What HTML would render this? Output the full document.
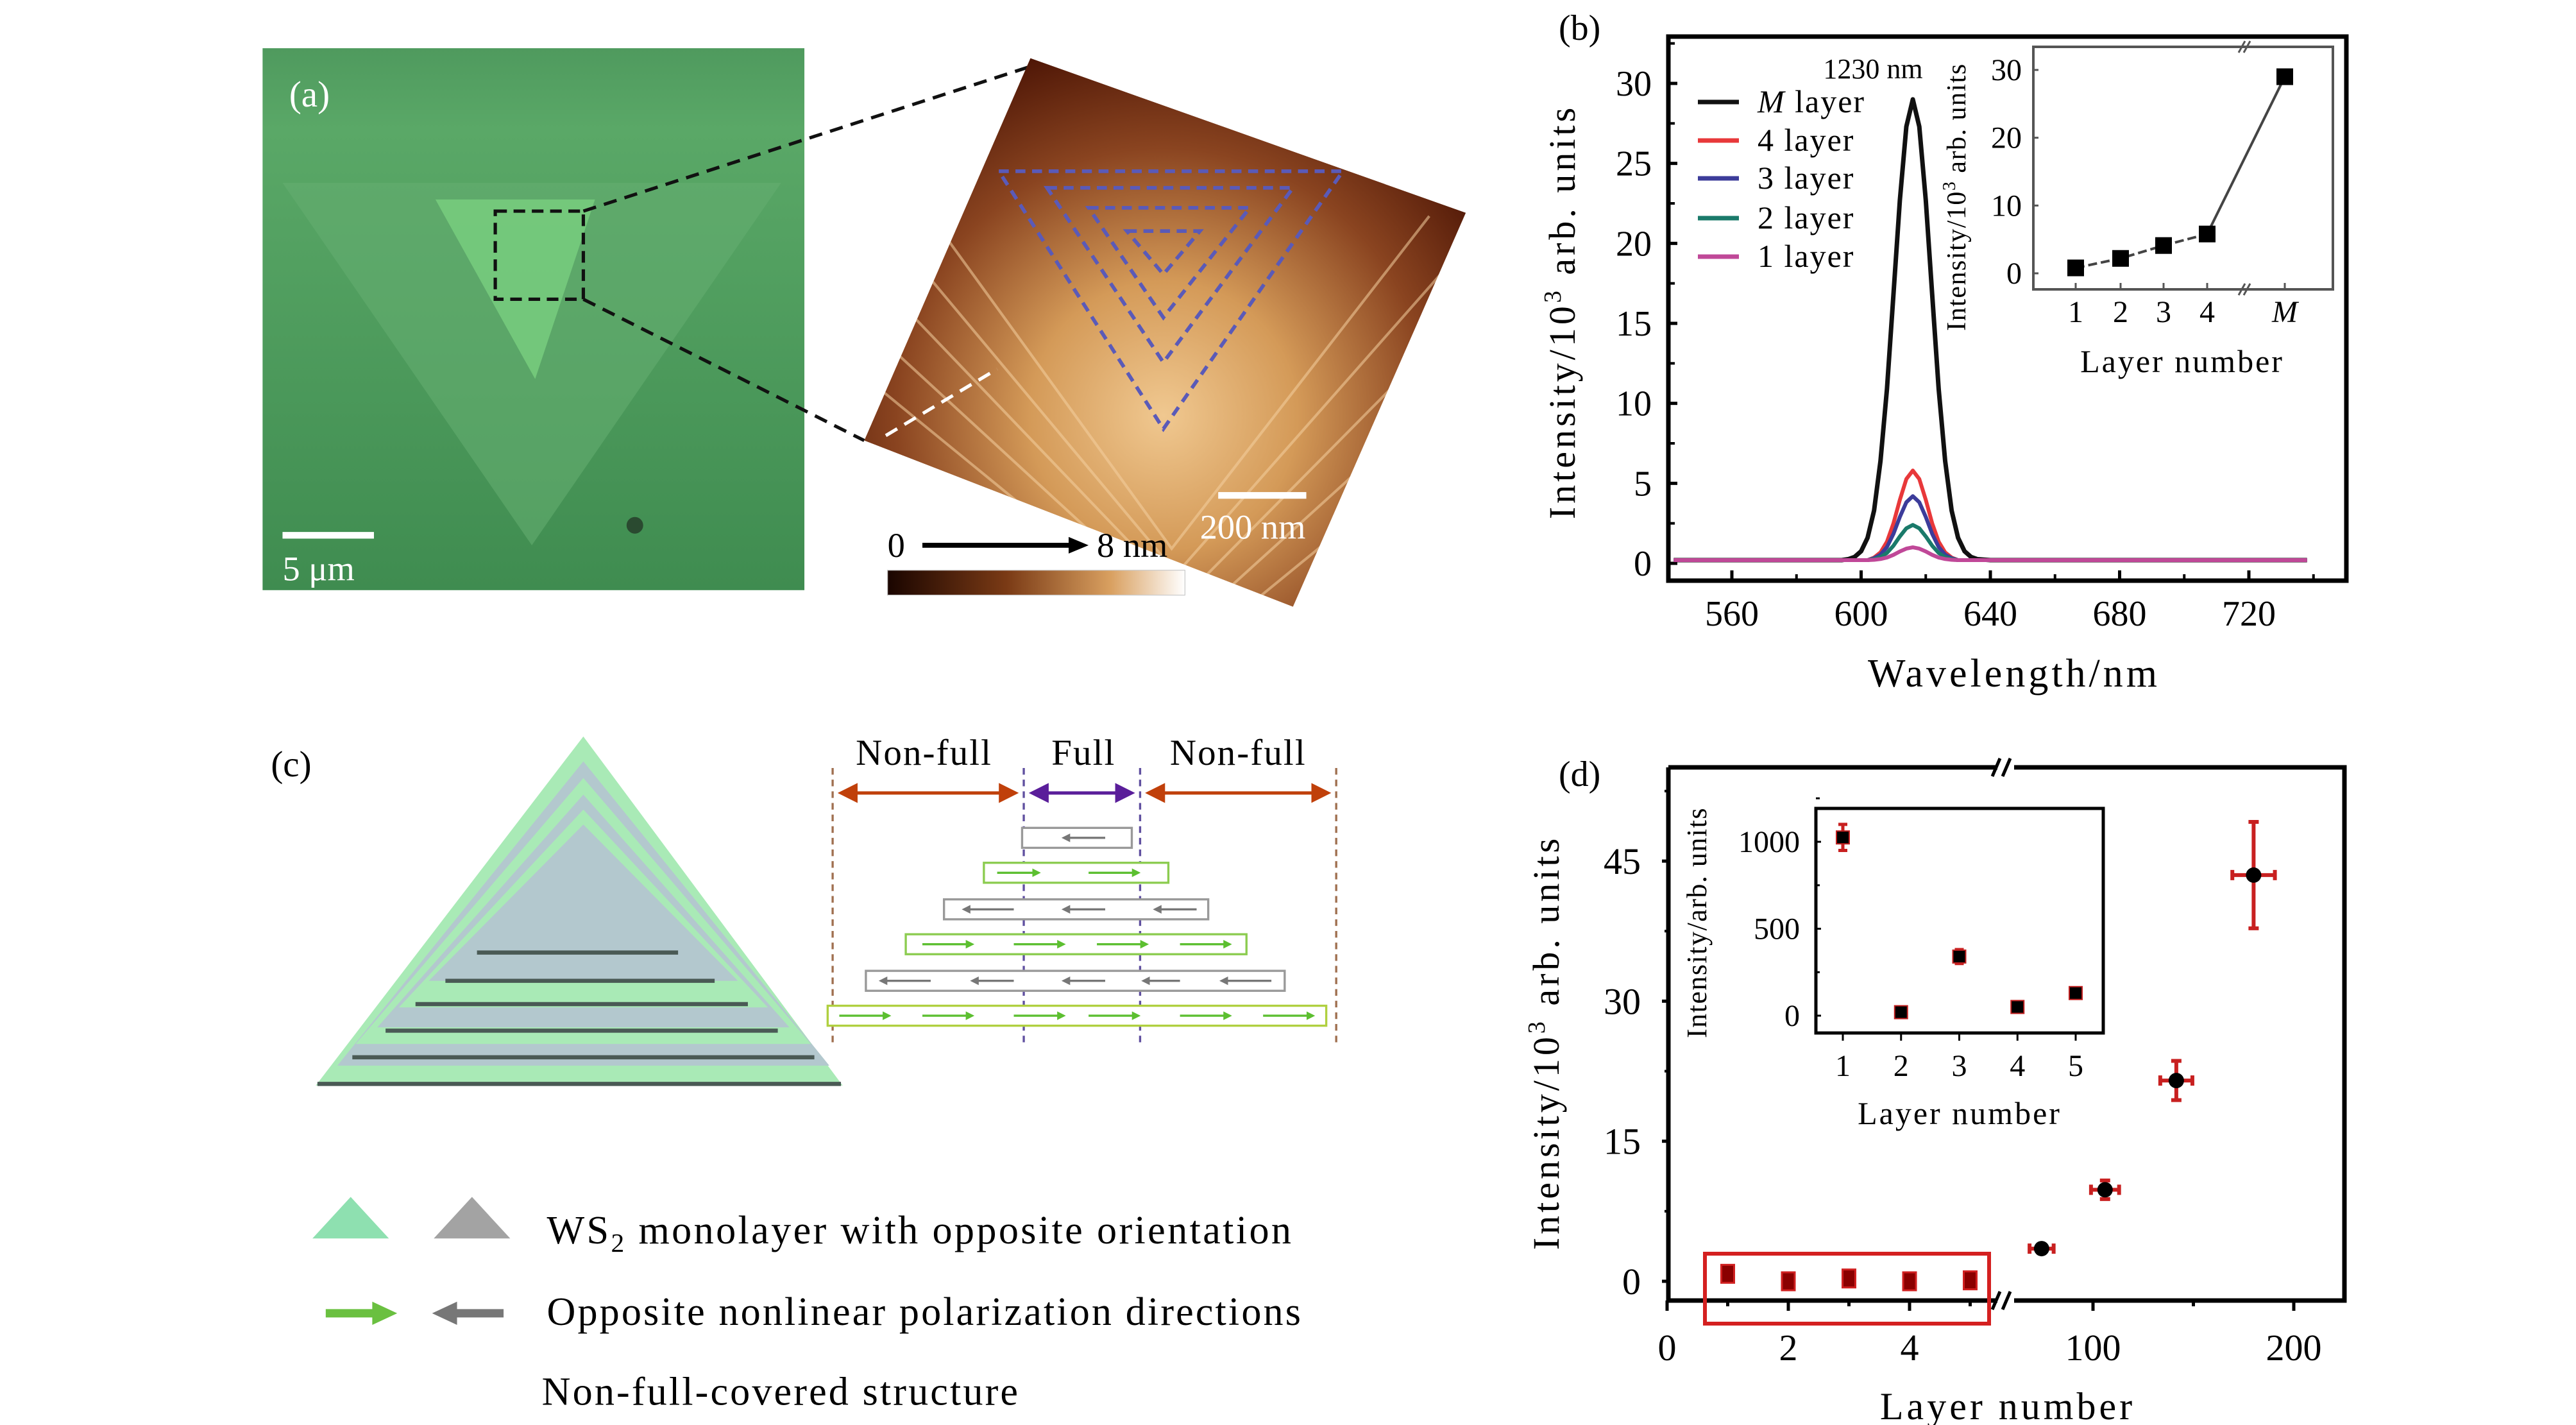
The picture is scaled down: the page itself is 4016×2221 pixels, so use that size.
<!DOCTYPE html>
<html><head><meta charset="utf-8"><style>
html,body{margin:0;padding:0;background:#fff;}
svg{display:block;font-family:"Liberation Serif",serif;}
</style></head><body>
<svg id="root" width="4016" height="2221" viewBox="0 0 4016 2221" xmlns="http://www.w3.org/2000/svg">
<defs>
<linearGradient id="greenbg" x1="0" y1="0" x2="0" y2="1"><stop offset="0" stop-color="#4f9a5e"/><stop offset="0.15" stop-color="#5aa867"/><stop offset="1" stop-color="#3f8c50"/></linearGradient>
<radialGradient id="afm" cx="700" cy="250" r="230" gradientUnits="userSpaceOnUse"><stop offset="0" stop-color="#f0c890"/><stop offset="0.35" stop-color="#d49a58"/><stop offset="0.7" stop-color="#8a4420"/><stop offset="1" stop-color="#4e1606"/></radialGradient>
<clipPath id="afmclip"><polygon points="620,35 882,128 778,365 520,265"/></clipPath>
<linearGradient id="cbar" x1="0" y1="0" x2="1" y2="0"><stop offset="0" stop-color="#1a0500"/><stop offset="0.4" stop-color="#7a3a15"/><stop offset="0.75" stop-color="#d9a060"/><stop offset="1" stop-color="#fff"/></linearGradient>
<marker id="ahO" markerWidth="6" markerHeight="6" refX="5" refY="3" orient="auto-start-reverse"><path d="M0,0L6,3L0,6z" fill="#c0400a"/></marker>
<marker id="ahP" markerWidth="6" markerHeight="6" refX="5" refY="3" orient="auto-start-reverse"><path d="M0,0L6,3L0,6z" fill="#5a1e9a"/></marker>
<marker id="ahG" markerWidth="4" markerHeight="4" refX="3" refY="2" orient="auto"><path d="M0,0L4,2L0,4z" fill="#5cbf30"/></marker>
<marker id="ahK" markerWidth="4" markerHeight="4" refX="3" refY="2" orient="auto"><path d="M0,0L4,2L0,4z" fill="#777"/></marker>
</defs>

<!-- Panel a (display coords scaled) -->
<g transform="scale(2.591)">
  <rect x="158" y="29" width="326" height="326" fill="url(#greenbg)"/>
  <polygon points="170,110 470,110 320,328" fill="#64ad70" opacity="0.6"/>
  <polygon points="262,120 358,120 322,228" fill="#79d07f" opacity="0.8"/>
  <circle cx="382" cy="316" r="5" fill="#2a4a30"/>
  <rect x="298" y="127" width="53" height="53" fill="none" stroke="#111" stroke-width="2" stroke-dasharray="7,4"/>
  <line x1="351" y1="127" x2="620" y2="40" stroke="#111" stroke-width="2" stroke-dasharray="8,5"/>
  <line x1="351" y1="180" x2="520" y2="265" stroke="#111" stroke-width="2" stroke-dasharray="8,5"/>
  <text x="174" y="64" font-size="22" fill="#fff">(a)</text>
  <rect x="170" y="320" width="55" height="4" fill="#fff"/>
  <text x="170" y="349" font-size="21" fill="#fff">5 μm</text>
  <g clip-path="url(#afmclip)">
    <polygon points="620,35 882,128 778,365 520,265" fill="url(#afm)"/>
    <g stroke="#f5d0a0" stroke-width="1.6" opacity="0.55" fill="none">
      <polyline points="560,130 705,330 860,130"/><polyline points="545,150 708,345 880,150"/><polyline points="530,170 712,360 900,170"/><polyline points="515,190 716,375 920,190"/><polyline points="500,210 720,390 940,210"/>
    </g>
  </g>
  <line x1="533" y1="262" x2="600" y2="222" stroke="#fff" stroke-width="2" stroke-dasharray="8,5"/>
  <g fill="none" stroke="#5a5ab8" stroke-width="2.2" stroke-dasharray="6,4">
    <polygon points="601,103 808,103 700,258"/>
    <polygon points="630,113 778,113 700,218"/>
    <polygon points="655,125 752,125 700,191"/>
    <polygon points="678,139 722,139 700,165"/>
  </g>
  <rect x="733" y="296" width="53" height="4" fill="#fff"/>
  <text x="722" y="324" font-size="21" fill="#fff">200 nm</text>
  <text x="534" y="335" font-size="21" fill="#000">0</text>
  <line x1="555" y1="328" x2="645" y2="328" stroke="#000" stroke-width="3"/>
  <path d="M643,323L655,328L643,333z" fill="#000"/>
  <text x="660" y="335" font-size="21" fill="#000">8 nm</text>
  <rect x="534" y="343" width="179" height="15" fill="url(#cbar)" stroke="#ccc" stroke-width="0.5"/>
</g>

<!-- Panel c -->
<g transform="scale(2.591)">
  <text x="163" y="467" font-size="22">(c)</text>
  <g>
    <polygon points="351,443 190,653 507,653" fill="#a9eab6"/>
    <polygon points="351,458 203,641 499,641" fill="#b3c8ce"/>
    <polygon points="351,468 214,628 488,628" fill="#a9eab6"/>
    <polygon points="351,478 227,618 475,618" fill="#b3c8ce"/>
    <polygon points="351,487 240,606 462,606" fill="#a9eab6"/>
    <polygon points="351,496 258,590 444,590" fill="#b3c8ce"/>
    <g stroke="#4a5a55" stroke-width="2.5">
      <line x1="287" y1="573" x2="408" y2="573"/><line x1="268" y1="590" x2="430" y2="590"/><line x1="250" y1="604" x2="450" y2="604"/><line x1="232" y1="620" x2="468" y2="620"/><line x1="212" y1="636" x2="490" y2="636"/><line x1="191" y1="652" x2="506" y2="652"/>
    </g>
  </g>
  <text x="556" y="460" font-size="22" text-anchor="middle" letter-spacing="0.8">Non-full</text>
  <text x="652" y="460" font-size="22" text-anchor="middle" letter-spacing="0.8">Full</text>
  <text x="745" y="460" font-size="22" text-anchor="middle" letter-spacing="0.8">Non-full</text>
  <g stroke-width="1.3" stroke-dasharray="4,3">
    <line x1="501" y1="462" x2="501" y2="628" stroke="#a07050"/><line x1="616" y1="462" x2="616" y2="628" stroke="#6050a0"/>
    <line x1="686" y1="462" x2="686" y2="628" stroke="#6050a0"/><line x1="804" y1="462" x2="804" y2="628" stroke="#a07050"/>
  </g>
  <line x1="506" y1="477" x2="611" y2="477" stroke="#c0400a" stroke-width="2" marker-start="url(#ahO)" marker-end="url(#ahO)"/>
  <line x1="621" y1="477" x2="681" y2="477" stroke="#5a1e9a" stroke-width="2" marker-start="url(#ahP)" marker-end="url(#ahP)"/>
  <line x1="691" y1="477" x2="799" y2="477" stroke="#c0400a" stroke-width="2" marker-start="url(#ahO)" marker-end="url(#ahO)"/>
  <g fill="#fff" stroke-width="1.3">
    <rect x="615" y="498" width="66" height="12" stroke="#999"/>
    <rect x="592" y="519" width="111" height="12" stroke="#8ccc50"/>
    <rect x="568" y="541" width="159" height="12" stroke="#999"/>
    <rect x="545" y="562" width="205" height="12" stroke="#8ccc50"/>
    <rect x="521" y="584" width="252" height="12" stroke="#999"/>
    <rect x="498" y="605" width="300" height="12" stroke="#b0d040"/>
  </g>
  <g stroke-width="1.3">
    <line x1="665" y1="504" x2="640" y2="504" stroke="#777" marker-end="url(#ahK)"/>
    <line x1="600" y1="525" x2="625" y2="525" stroke="#5cbf30" marker-end="url(#ahG)"/><line x1="655" y1="525" x2="685" y2="525" stroke="#5cbf30" marker-end="url(#ahG)"/>
    <line x1="610" y1="547" x2="580" y2="547" stroke="#777" marker-end="url(#ahK)"/><line x1="665" y1="547" x2="640" y2="547" stroke="#777" marker-end="url(#ahK)"/><line x1="720" y1="547" x2="695" y2="547" stroke="#777" marker-end="url(#ahK)"/>
    <line x1="555" y1="568" x2="585" y2="568" stroke="#5cbf30" marker-end="url(#ahG)"/><line x1="610" y1="568" x2="640" y2="568" stroke="#5cbf30" marker-end="url(#ahG)"/><line x1="660" y1="568" x2="690" y2="568" stroke="#5cbf30" marker-end="url(#ahG)"/><line x1="710" y1="568" x2="740" y2="568" stroke="#5cbf30" marker-end="url(#ahG)"/>
    <line x1="560" y1="590" x2="530" y2="590" stroke="#777" marker-end="url(#ahK)"/><line x1="610" y1="590" x2="585" y2="590" stroke="#777" marker-end="url(#ahK)"/><line x1="665" y1="590" x2="640" y2="590" stroke="#777" marker-end="url(#ahK)"/><line x1="710" y1="590" x2="688" y2="590" stroke="#777" marker-end="url(#ahK)"/><line x1="765" y1="590" x2="735" y2="590" stroke="#777" marker-end="url(#ahK)"/>
    <line x1="505" y1="611" x2="535" y2="611" stroke="#5cbf30" marker-end="url(#ahG)"/><line x1="555" y1="611" x2="585" y2="611" stroke="#5cbf30" marker-end="url(#ahG)"/><line x1="610" y1="611" x2="640" y2="611" stroke="#5cbf30" marker-end="url(#ahG)"/><line x1="655" y1="611" x2="685" y2="611" stroke="#5cbf30" marker-end="url(#ahG)"/><line x1="710" y1="611" x2="740" y2="611" stroke="#5cbf30" marker-end="url(#ahG)"/><line x1="760" y1="611" x2="790" y2="611" stroke="#5cbf30" marker-end="url(#ahG)"/>
  </g>
  <polygon points="211,720 188,745 234,745" fill="#8ee0b0"/>
  <polygon points="284,720 261,745 307,745" fill="#a3a3a3"/>
  <text x="329" y="748" font-size="24" letter-spacing="1.3">WS<tspan font-size="16" dy="5">2</tspan><tspan dy="-5"> monolayer with opposite orientation</tspan></text>
  <line x1="196" y1="790" x2="226" y2="790" stroke="#6ac040" stroke-width="5"/>
  <path d="M224,783L239,790L224,797z" fill="#6ac040"/>
  <line x1="303" y1="790" x2="273" y2="790" stroke="#777" stroke-width="5"/>
  <path d="M275,783L260,790L275,797z" fill="#777"/>
  <text x="329" y="797" font-size="24" letter-spacing="1.2">Opposite nonlinear polarization directions</text>
  <text x="326" y="845" font-size="24" letter-spacing="1.2">Non-full-covered structure</text>
</g>

<g id="panelB"></g>
<g id="panelD"></g>
</svg>
<script>
// ---------- Panel b data ----------
const bWavelengths = [542,560,580,590,592,594,596,598,600,602,604,606,608,610,612,614,616,618,620,622,624,626,628,630,632,634,636,640,680,720,738];
const bSeriesNames = ["M layer","4 layer","3 layer","2 layer","1 layer"];
const bM  = [0.2,0.2,0.2,0.2,0.2,0.2,0.26,0.4,0.76,1.6,3.3,6.4,10.9,16.8,22.7,27.3,29.0,27.3,22.7,16.8,10.9,6.4,3.3,1.6,0.76,0.4,0.26,0.2,0.2,0.2,0.2];
const b4  = [0.2,0.2,0.2,0.2,0.2,0.2,0.2,0.2,0.2,0.2,0.36,0.68,1.35,2.5,3.97,5.27,5.8,5.27,3.97,2.5,1.35,0.68,0.36,0.2,0.2,0.2,0.2,0.2,0.2,0.2,0.2];
const b3  = [0.2,0.2,0.2,0.2,0.2,0.2,0.2,0.2,0.2,0.2,0.32,0.54,1.02,1.84,2.9,3.82,4.2,3.82,2.9,1.84,1.02,0.54,0.32,0.2,0.2,0.2,0.2,0.2,0.2,0.2,0.2];
const b2  = [0.2,0.2,0.2,0.2,0.2,0.2,0.2,0.2,0.2,0.2,0.26,0.39,0.65,1.1,1.68,2.19,2.4,2.19,1.68,1.1,0.65,0.39,0.26,0.2,0.2,0.2,0.2,0.2,0.2,0.2,0.2];
const b1  = [0.2,0.2,0.2,0.2,0.2,0.2,0.2,0.2,0.2,0.2,0.22,0.27,0.36,0.53,0.74,0.92,1.0,0.92,0.74,0.53,0.36,0.27,0.22,0.2,0.2,0.2,0.2,0.2,0.2,0.2,0.2];
const bColors = ["#111","#e8383a","#3c3c9a","#1a7a6a","#c04898"];
const bXTicks = [560,600,640,680,720];
const bYTicks = [0,5,10,15,20,25,30];
const bInsetCats = ["1","2","3","4","M"];
const bInsetVals = [0.8,2.2,4.1,5.8,29];
const bInsetYTicks = [0,10,20,30];
// ---------- Panel d data ----------
const dLowX = [1,2,3,4,5];
const dLowY = [0.8,0,0.3,0,0.1];
const dHighX = [74.4,106,141.5,180];
const dHighY = [3.5,9.8,21.5,43.5];
const dHighXErr = [6,7,8,10.6];
const dHighYErr = [0.3,1.0,2.1,5.7];
const dXTicksLow = [0,2,4];
const dXTicksHigh = [100,200];
const dYTicks = [0,15,30,45];
const dInsetX = [1,2,3,4,5];
const dInsetY = [1025,20,340,50,130];
const dInsetErr = [75,15,40,15,20];
const dInsetYTicks = [0,500,1000];

const NS="http://www.w3.org/2000/svg";
function mk(parent,tag,attrs,text){const e=document.createElementNS(NS,tag);for(const k in attrs)e.setAttribute(k,attrs[k]);if(text!==undefined)e.textContent=text;parent.appendChild(e);return e;}

// ---------- Panel b ----------
(function(){
const g=document.getElementById('panelB');
const L=2601,R=3658,T=57,B=905;
const x=v=>2700+(v-560)*201.5/40;
const y=v=>878-v*(878-130)/30;
let t=mk(g,'text',{x:2430,y:62,'font-size':56});t.textContent='(b)';

let f=mk(g,'rect',{x:L,y:T,width:R-L,height:B-T,fill:'none',stroke:'#000','stroke-width':7});

bYTicks.forEach(v=>{mk(g,'line',{x1:L,x2:L+14,y1:y(v),y2:y(v),stroke:'#000','stroke-width':5});
 mk(g,'line',{x1:L,x2:L+10,y1:y(v+2.5),y2:y(v+2.5),stroke:'#000','stroke-width':4});
 const e=mk(g,'text',{x:2575,y:y(v)+19,'font-size':56,'text-anchor':'end'},String(v));
 });
bXTicks.forEach(v=>{mk(g,'line',{x1:x(v),x2:x(v),y1:B,y2:B-16,stroke:'#000','stroke-width':5});
 mk(g,'line',{x1:x(v+20),x2:x(v+20),y1:B,y2:B-10,stroke:'#000','stroke-width':4});
 const e=mk(g,'text',{x:x(v),y:975,'font-size':56,'text-anchor':'middle'},String(v));
 });
let xt=mk(g,'text',{x:3140,y:1070,'font-size':62,'text-anchor':'middle','letter-spacing':5},'Wavelength/nm');

let yt=mk(g,'text',{x:0,y:0,'font-size':58,'text-anchor':'middle','letter-spacing':5,transform:'translate(2455,486) rotate(-90)'});
yt.innerHTML='Intensity/10<tspan font-size="38" dy="-22">3</tspan><tspan dy="22"> arb. units</tspan>';

const series=[bM,b4,b3,b2,b1];
for(let s=0;s<series.length;s++){
 const pts=bWavelengths.map((w,i)=>x(w).toFixed(1)+','+y(series[s][i]).toFixed(1)).join(' ');
 const p=mk(g,'polyline',{points:pts,fill:'none',stroke:bColors[s],'stroke-width':s==0?7:6,'stroke-linejoin':'round'});
 
 
}
const ly=[159,219,278,340,400];
bSeriesNames.forEach((n,i)=>{
 const l=mk(g,'line',{x1:2647,x2:2711,y1:ly[i],y2:ly[i],stroke:bColors[i],'stroke-width':7});
 
 const e=mk(g,'text',{x:2740,y:ly[i]+16,'font-size':50,'letter-spacing':2});
 if(i==0)e.innerHTML='<tspan font-style="italic">M</tspan> layer';else e.textContent=n;
 
});
let pk=mk(g,'text',{x:2920,y:122,'font-size':44,'text-anchor':'middle'},'1230 nm');

// inset
const iL=3170,iR=3637,iT=73,iB=451;
const iy=v=>426-v*(426-109)/30;
const ix=[3236,3306,3373,3441,3562];
let fr=mk(g,'rect',{x:iL,y:iT,width:iR-iL,height:iB-iT,fill:'#fff',stroke:'#555','stroke-width':4});

mk(g,'path',{d:'M3490,82L3500,64M3498,82L3508,64M3490,460L3500,442M3498,460L3508,442',stroke:'#555','stroke-width':3});
bInsetYTicks.forEach(v=>{mk(g,'line',{x1:iL,x2:iL+8,y1:iy(v),y2:iy(v),stroke:'#555','stroke-width':3});
 const e=mk(g,'text',{x:3152,y:iy(v)+16,'font-size':48,'text-anchor':'end'},String(v));
 });
bInsetCats.forEach((c,i)=>{mk(g,'line',{x1:ix[i],x2:ix[i],y1:iB,y2:iB-10,stroke:'#555','stroke-width':3});
 const e=mk(g,'text',{x:ix[i],y:502,'font-size':48,'text-anchor':'middle','font-style':c=='M'?'italic':'normal'},c);
 });
let il=mk(g,'polyline',{points:ix.slice(0,4).map((xx,i)=>xx+','+iy(bInsetVals[i])).join(' '),fill:'none',stroke:'#444','stroke-width':4,'stroke-dasharray':'14,6'});

let il2=mk(g,'line',{x1:ix[3],y1:iy(bInsetVals[3]),x2:ix[4],y2:iy(bInsetVals[4]),stroke:'#444','stroke-width':4});

bInsetVals.forEach((v,i)=>{const r=mk(g,'rect',{x:ix[i]-13,y:iy(v)-13,width:26,height:26,fill:'#000'});
 });
let iyt=mk(g,'text',{x:0,y:0,'font-size':42,'text-anchor':'middle','letter-spacing':1.5,transform:'translate(3064,307) rotate(-90)'});
iyt.innerHTML='Intensity/10<tspan font-size="28" dy="-16">3</tspan><tspan dy="16"> arb. units</tspan>';

let ixt=mk(g,'text',{x:3402,y:580,'font-size':50,'text-anchor':'middle','letter-spacing':3},'Layer number');

})();

// ---------- Panel d ----------
(function(){
const g=document.getElementById('panelD');
const L=2601,R=3655,T=1196,B=2027;
const xl=v=>2599+v*94.5;
const xh=v=>3263+(v-100)*3.13;
const y=v=>1997-v*218.3/15;
let t=mk(g,'text',{x:2430,y:1225,'font-size':56},'(d)');

let fr0=mk(g,'path',{d:`M${L},${T}L3114,${T}M3140,${T}L${R},${T}L${R},${B}L3140,${B}M3114,${B}L${L},${B}L${L},${T}`,fill:'none',stroke:'#000','stroke-width':7});

mk(g,'path',{d:`M3106,${T+14}L3118,${T-14}M3122,${T+14}L3134,${T-14}M3106,${B+14}L3118,${B-14}M3122,${B+14}L3134,${B-14}`,stroke:'#000','stroke-width':5});
dYTicks.forEach(v=>{mk(g,'line',{x1:L-10,x2:L,y1:y(v),y2:y(v),stroke:'#000','stroke-width':5});
 mk(g,'line',{x1:L-6,x2:L,y1:y(v+7.5),y2:y(v+7.5),stroke:'#000','stroke-width':4});
 const e=mk(g,'text',{x:2558,y:y(v)+20,'font-size':58,'text-anchor':'end'},String(v));
 });
[0,1,2,3,4,5].forEach(v=>mk(g,'line',{x1:xl(v),x2:xl(v),y1:B,y2:B+(v%2==0?16:9),stroke:'#000','stroke-width':5}));
[100,150,200].forEach(v=>mk(g,'line',{x1:xh(v),x2:xh(v),y1:B,y2:B+(v%100==0?16:9),stroke:'#000','stroke-width':5}));
dXTicksLow.forEach(v=>{const e=mk(g,'text',{x:xl(v),y:2120,'font-size':58,'text-anchor':'middle'},String(v));
 });
dXTicksHigh.forEach(v=>{const e=mk(g,'text',{x:xh(v),y:2120,'font-size':58,'text-anchor':'middle'},String(v));
 });
let xt=mk(g,'text',{x:3130,y:2212,'font-size':60,'text-anchor':'middle','letter-spacing':5},'Layer number');

let yt=mk(g,'text',{x:0,y:0,'font-size':58,'text-anchor':'middle','letter-spacing':5,transform:'translate(2430,1625) rotate(-90)'});
yt.innerHTML='Intensity/10<tspan font-size="38" dy="-22">3</tspan><tspan dy="22"> arb. units</tspan>';

let hb=mk(g,'rect',{x:2658,y:1954,width:443,height:109,fill:'none',stroke:'#d42020','stroke-width':6});

dLowX.forEach((v,i)=>{const r=mk(g,'rect',{x:xl(v)-10,y:y(dLowY[i])-14,width:20,height:28,fill:'#8a0000',stroke:'#d02020','stroke-width':3});
 });
dHighX.forEach((v,i)=>{
 const cx=xh(v),cy=y(dHighY[i]);
 const ex=dHighXErr[i]*3.13, ey=dHighYErr[i]*218.3/15;
 const eb=mk(g,'path',{d:`M${cx-ex},${cy}L${cx+ex},${cy}M${cx},${cy-ey}L${cx},${cy+ey}M${cx-ex},${cy-8}L${cx-ex},${cy+8}M${cx+ex},${cy-8}L${cx+ex},${cy+8}M${cx-8},${cy-ey}L${cx+8},${cy-ey}M${cx-8},${cy+ey}L${cx+8},${cy+ey}`,stroke:'#c82020','stroke-width':6});
 
 const c=mk(g,'circle',{cx:cx,cy:cy,r:12,fill:'#000'});
 
});
// inset
const iL=2831,iR=3279,iT=1260,iB=1610;
const iy=v=>1583-v*(1583-1312)/1000;
const ix=v=>2873+(v-1)*(3236-2873)/4;
let fr=mk(g,'rect',{x:iL,y:iT,width:iR-iL,height:iB-iT,fill:'#fff',stroke:'#000','stroke-width':5});

dInsetYTicks.forEach(v=>{mk(g,'line',{x1:iL,x2:iL+8,y1:iy(v),y2:iy(v),stroke:'#000','stroke-width':3});
 mk(g,'line',{x1:iL,x2:iL+6,y1:iy(v+250),y2:iy(v+250),stroke:'#000','stroke-width':3});
 const e=mk(g,'text',{x:2806,y:iy(v)+16,'font-size':48,'text-anchor':'end'},String(v));
 });
dInsetX.forEach((v,i)=>{mk(g,'line',{x1:ix(v),x2:ix(v),y1:iB,y2:iB+12,stroke:'#000','stroke-width':3});
 const e=mk(g,'text',{x:ix(v),y:1677,'font-size':48,'text-anchor':'middle'},String(v));
 
 const cx=ix(v),cy=iy(dInsetY[i]),ey=dInsetErr[i]*(1583-1312)/1000;
 const eb=mk(g,'path',{d:`M${cx},${cy-ey}L${cx},${cy+ey}M${cx-7},${cy-ey}L${cx+7},${cy-ey}M${cx-7},${cy+ey}L${cx+7},${cy+ey}`,stroke:'#c82020','stroke-width':5});
 
 const r=mk(g,'rect',{x:cx-10,y:cy-10,width:20,height:20,fill:'#000',stroke:'#c02020','stroke-width':2});
 
});
let iyt=mk(g,'text',{x:0,y:0,'font-size':44,'text-anchor':'middle','letter-spacing':1.5,transform:'translate(2660,1438) rotate(-90)'},'Intensity/arb. units');

let ixt=mk(g,'text',{x:3055,y:1752,'font-size':50,'text-anchor':'middle','letter-spacing':3},'Layer number');

})();
</script>
</body></html>
